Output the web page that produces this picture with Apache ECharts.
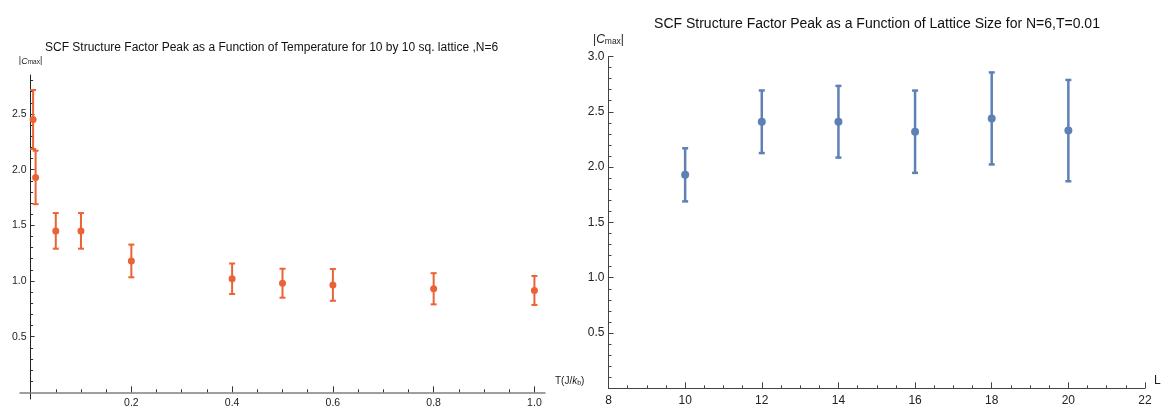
<!DOCTYPE html>
<html>
<head>
<meta charset="utf-8">
<script src="https://cdn.jsdelivr.net/npm/echarts@6/dist/echarts.min.js"></script>
<style>
html,body{margin:0;padding:0;background:#fff;}
#chart{width:1168px;height:408px;}
</style>
</head>
<body>
<div id="chart"></div>
<script>
// ---- Data: left panel (temperature scan, 10x10 lattice, N=6) ----
const tempT   = [0.005, 0.01, 0.05, 0.1, 0.2, 0.4, 0.5, 0.6, 0.8, 1.0];
const tempC   = [2.45, 1.93, 1.45, 1.45, 1.18, 1.02, 0.98, 0.965, 0.93, 0.915];
const tempErr = [0.265, 0.24, 0.16, 0.16, 0.147, 0.137, 0.13, 0.143, 0.14, 0.13];

// ---- Data: right panel (lattice size scan, N=6, T=0.01) ----
const sizeL   = [10, 12, 14, 16, 18, 20];
const sizeC   = [1.93, 2.41, 2.41, 2.32, 2.44, 2.33];
const sizeErr = [0.24, 0.283, 0.324, 0.372, 0.416, 0.458];

// ---- Tick values ----
const leftXLabels = [0.2, 0.4, 0.6, 0.8, 1.0];
const leftXMinor  = [0.05,0.1,0.15,0.25,0.3,0.35,0.45,0.5,0.55,0.65,0.7,0.75,0.85,0.9,0.95];
const leftYLabels = [0.5, 1.0, 1.5, 2.0, 2.5];
const leftYMinor  = [0.1,0.2,0.3,0.4,0.6,0.7,0.8,0.9,1.1,1.2,1.3,1.4,1.6,1.7,1.8,1.9,2.1,2.2,2.3,2.4,2.6,2.7,2.8];

const RED = '#EB6235';
const BLUE = '#5E81B5';
const FONT = 'Liberation Sans, Arial, sans-serif';

// left panel layout (axis ranges with Mathematica-like padding)
const LX_MIN = -0.021, LX_MAX = 1.021, LY_MIN = -0.06, LY_MAX = 2.85;
const LG = { left: 20, top: 75, width: 525, height: 324 };
// shift axes so that they cross at the origin
const xAxisShift = -(0 - LY_MIN) / (LY_MAX - LY_MIN) * LG.height;
const yAxisShift = -(0 - LX_MIN) / (LX_MAX - LX_MIN) * LG.width;

function errRender(color, capHalf, lw) {
  return function (params, api) {
    const x = api.value(0), y = api.value(1), e = api.value(2);
    const top = api.coord([x, y + e]);
    const bot = api.coord([x, y - e]);
    const st = { stroke: color, lineWidth: lw };
    return {
      type: 'group',
      children: [
        { type: 'line', shape: { x1: top[0], y1: top[1], x2: bot[0], y2: bot[1] }, style: st },
        { type: 'line', shape: { x1: top[0] - capHalf, y1: top[1], x2: top[0] + capHalf, y2: top[1] }, style: st },
        { type: 'line', shape: { x1: bot[0] - capHalf, y1: bot[1], x2: bot[0] + capHalf, y2: bot[1] }, style: st }
      ]
    };
  };
}

const leftPts = tempT.map((t, i) => [t, tempC[i]]);
const leftErr = tempT.map((t, i) => [t, tempC[i], tempErr[i]]);
const rightPts = sizeL.map((l, i) => [l, sizeC[i]]);
const rightErr = sizeL.map((l, i) => [l, sizeC[i], sizeErr[i]]);

const chart = echarts.init(document.getElementById('chart'), null, { renderer: 'canvas' });

const rightAxisColor = '#444';

const option = {
  backgroundColor: '#fff',
  animation: false,
  textStyle: { fontFamily: FONT },
  title: [
    {
      text: 'SCF Structure Factor Peak as a Function of Temperature for 10 by 10 sq. lattice ,N=6',
      left: 40, top: 37,
      textStyle: { fontSize: 12, fontWeight: 'normal', color: '#111', fontFamily: FONT }
    },
    {
      text: 'SCF Structure Factor Peak as a Function of Lattice Size for N=6,T=0.01',
      left: 872, top: 12, textAlign: 'center',
      textStyle: { fontSize: 14, fontWeight: 'normal', color: '#111', fontFamily: FONT }
    }
  ],
  grid: [
    { left: LG.left, top: LG.top, width: LG.width, height: LG.height, containLabel: false, outerBoundsMode: 'none' },
    { left: 608.5, top: 56.5, width: 536.5, height: 331.8, containLabel: false, outerBoundsMode: 'none' }
  ],
  xAxis: [
    {
      gridIndex: 0, type: 'value', min: LX_MIN, max: LX_MAX, position: 'bottom', offset: xAxisShift,
      axisLine: { onZero: false, lineStyle: { color: '#808080', width: 1.5 } },
      axisTick: { inside: true, length: 6, customValues: leftXLabels, lineStyle: { color: '#333' } },
      axisLabel: { customValues: leftXLabels, fontSize: 10.5, color: '#222', margin: 5,
                   formatter: v => v.toFixed(1) },
      splitLine: { show: false },
      name: '{n|T(J/}{i|k}{s|b}{n|)}',
      nameLocation: 'end', nameGap: 10,
      nameTextStyle: {
        verticalAlign: 'bottom', padding: [0, 0, 6, 0],
        rich: {
          n: { fontSize: 10, color: '#222', fontFamily: FONT },
          i: { fontSize: 10, color: '#222', fontStyle: 'italic', fontFamily: FONT },
          s: { fontSize: 7, color: '#222', verticalAlign: 'bottom', padding: [3, 0, 0, 0], fontFamily: FONT }
        }
      }
    },
    {
      gridIndex: 0, type: 'value', min: LX_MIN, max: LX_MAX, position: 'bottom', offset: xAxisShift,
      axisLine: { show: false, onZero: false },
      axisTick: { inside: true, length: 3, customValues: leftXMinor, lineStyle: { color: '#333' } },
      axisLabel: { show: false },
      splitLine: { show: false }
    },
    {
      gridIndex: 1, type: 'value', min: 8, max: 22, interval: 2,
      axisLine: { onZero: false, lineStyle: { color: rightAxisColor, width: 1 } },
      axisTick: { inside: true, length: 6, lineStyle: { color: rightAxisColor } },
      minorTick: { show: true, splitNumber: 4, length: 3, lineStyle: { color: rightAxisColor } },
      axisLabel: { fontSize: 12, color: '#222', margin: 6, showMinLabel: true, showMaxLabel: true },
      splitLine: { show: false },
      name: 'L', nameLocation: 'end', nameGap: 9,
      nameTextStyle: { fontSize: 12, color: '#222', verticalAlign: 'bottom', padding: [0, 0, 2, 0] }
    }
  ],
  yAxis: [
    {
      gridIndex: 0, type: 'value', min: LY_MIN, max: LY_MAX, position: 'left', offset: yAxisShift,
      axisLine: { onZero: false, lineStyle: { color: '#222', width: 1 } },
      axisTick: { inside: true, length: 4, customValues: leftYLabels, lineStyle: { color: '#333' } },
      axisLabel: { customValues: leftYLabels, fontSize: 10.5, color: '#222', margin: 4,
                   formatter: v => v.toFixed(1) },
      splitLine: { show: false },
      name: '{n||}{i|C}{s|max}{n||}',
      nameLocation: 'end', nameGap: 9,
      nameTextStyle: {
        align: 'center',
        rich: {
          n: { fontSize: 9, color: '#222', fontFamily: FONT },
          i: { fontSize: 9, color: '#222', fontStyle: 'italic', fontFamily: FONT },
          s: { fontSize: 6.5, color: '#222', verticalAlign: 'bottom', padding: [3, 0, 0, 0], fontFamily: FONT }
        }
      }
    },
    {
      gridIndex: 0, type: 'value', min: LY_MIN, max: LY_MAX, position: 'left', offset: yAxisShift,
      axisLine: { show: false, onZero: false },
      axisTick: { inside: true, length: 2.5, customValues: leftYMinor, lineStyle: { color: '#333' } },
      axisLabel: { show: false },
      splitLine: { show: false }
    },
    {
      gridIndex: 1, type: 'value', min: 0, max: 3.0, interval: 0.5,
      axisLine: { onZero: false, lineStyle: { color: rightAxisColor, width: 1 } },
      axisTick: { inside: true, length: 5, lineStyle: { color: rightAxisColor } },
      minorTick: { show: true, splitNumber: 5, length: 3, lineStyle: { color: rightAxisColor } },
      axisLabel: { fontSize: 12, color: '#222', margin: 4,
                   formatter: v => (v === 0 ? '' : v.toFixed(1)) },
      splitLine: { show: false },
      name: '{n||}{i|C}{s|max}{n||}',
      nameLocation: 'end', nameGap: 10,
      nameTextStyle: {
        align: 'center',
        rich: {
          n: { fontSize: 12, color: '#222', fontFamily: FONT },
          i: { fontSize: 12, color: '#222', fontStyle: 'italic', fontFamily: FONT },
          s: { fontSize: 8.5, color: '#222', verticalAlign: 'bottom', padding: [4, 0, 0, 0], fontFamily: FONT }
        }
      }
    }
  ],
  series: [
    {
      type: 'custom', xAxisIndex: 0, yAxisIndex: 0, data: leftErr,
      renderItem: errRender(RED, 3, 2), clip: false, z: 2
    },
    {
      type: 'scatter', xAxisIndex: 0, yAxisIndex: 0, data: leftPts,
      symbol: 'circle', symbolSize: 7, itemStyle: { color: RED, opacity: 1 }, z: 3
    },
    {
      type: 'custom', xAxisIndex: 2, yAxisIndex: 2, data: rightErr,
      renderItem: errRender(BLUE, 3, 2.5), clip: false, z: 2
    },
    {
      type: 'scatter', xAxisIndex: 2, yAxisIndex: 2, data: rightPts,
      symbol: 'circle', symbolSize: 8, itemStyle: { color: BLUE, opacity: 1 }, z: 3
    }
  ]
};

chart.setOption(option);
</script>
</body>
</html>
